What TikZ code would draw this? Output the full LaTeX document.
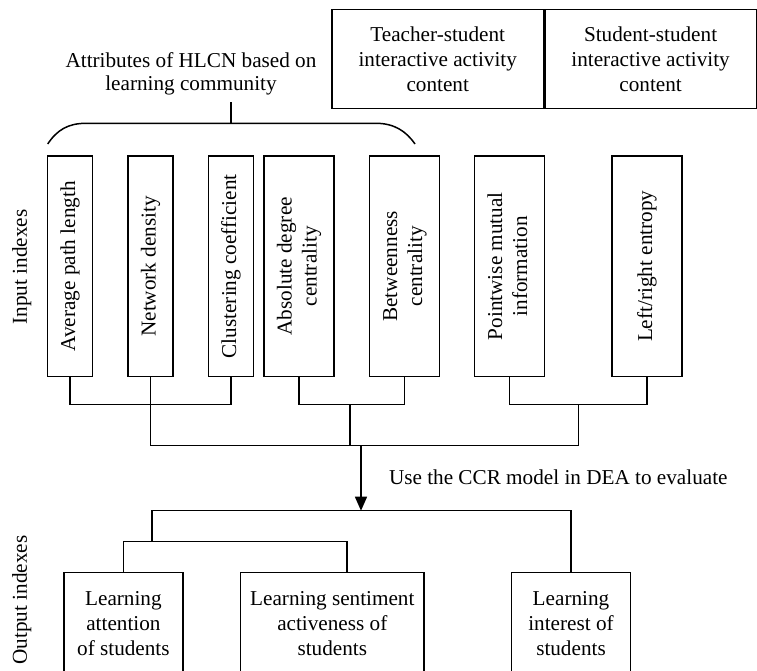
\documentclass[tikz,border=0pt]{standalone}
\usepackage{fontspec}
\setmainfont{Liberation Serif}
\usetikzlibrary{positioning}
\usetikzlibrary{arrows.meta}

\newcommand{\uptext}[1]{\rotatebox{90}{\begin{tabular}{@{}c@{}}#1\end{tabular}}}

\tikzset{
    idxbox/.style={draw, minimum height=110.4pt, inner sep=0pt},
    narrowbox/.style={idxbox, minimum width=22.5pt},
    widebox/.style={idxbox, minimum width=35pt},
    topbox/.style={draw, align=center, minimum width=105.7pt,
                   minimum height=49.5pt, inner sep=0pt},
    outbox/.style={draw, align=center, minimum height=50.7pt, inner sep=0pt},
}

\begin{document}
\begin{tikzpicture}[
        x=0.5pt, y=-0.5pt, line width=0.75pt,
        font=\fontsize{10.6}{12.5}\selectfont,
    ]
    \useasboundingbox (0,0) rectangle (757,671);

    % interaction content
    \node[topbox] (tsc) at (437.7,58.8)
        {Teacher-student\\interactive activity\\content};
    \node[topbox, right=0pt of tsc] (ssc)
        {Student-student\\interactive activity\\content};

    % attributes bracket
    \node[align=center, font=\fontsize{10.6}{11.2}\selectfont] (attr) at (191,74)
        {Attributes of HLCN based on\\learning community};
    \coordinate (stemtop) at (231,102);
    \coordinate (brace) at (231,123.3);
    \draw (stemtop) -- (brace);
    \draw (47.7,144) .. controls (57,130) and (68,123.3) .. (86,123.3)
        -- (376,123.3) .. controls (394,123.3) and (406,131) .. (415,144);

    % input indexes
    \node[rotate=90] (inlabel) at (21.7,267) {Input indexes};
    \node[narrowbox] (b1) at (70.2,266.3) {\uptext{Average path length}};
    \node[narrowbox] (b2) at (150.7,266.3) {\uptext{Network density}};
    \node[narrowbox] (b3) at (231.2,266.3) {\uptext{Clustering coefficient}};
    \node[widebox] (b4) at (299.2,266.3) {\uptext{Absolute degree\\centrality}};
    \node[widebox] (b5) at (404.5,266.3) {\uptext{Betweenness\\centrality}};
    \node[widebox] (b6) at (509.7,266.3) {\uptext{Pointwise mutual\\information}};
    \node[widebox] (b7) at (647.2,266.3) {\uptext{Left/right entropy}};

    % joining the inputs
    \coordinate (jA) at (150.7,404.3);
    \coordinate (jB) at (350,404.3);
    \coordinate (jC) at (578.5,404.3);
    \coordinate (mid) at (361,445.7);
    \draw (b1.south) |- (jA) -| (b3.south);
    \draw (b4.south) |- (jB) -| (b5.south);
    \draw (b6.south) |- (jC) -| (b7.south);
    \draw (b2.south) -- (jA) |- (mid) -| (jC);
    \draw (jB) -- (jB |- mid);

    % evaluation step
    \coordinate (otop) at (361,510.7);
    \draw[-{Triangle[width=6pt,length=7pt]}] (mid) -- (otop);
    \node[anchor=west] (ccr) at (381.6,477.7)
        {Use the CCR model in DEA to evaluate};

    % output indexes
    \node[rotate=90] (outlabel) at (21.7,600) {Output indexes};
    \node[outbox, minimum width=59.6pt] (oA) at (123.4,623.4)
        {Learning\\attention\\of students};
    \node[outbox, minimum width=91.7pt] (oB) at (332.3,623.4)
        {Learning sentiment\\activeness of\\students};
    \node[outbox, minimum width=59.4pt] (oC) at (571,623.4)
        {Learning\\interest of\\students};

    \coordinate (oL) at (152,541.3);
    \draw (oC.north) |- (otop) -| (oL);
    \draw (oA.north) |- (oL) -| ([xshift=7.3pt]oB.north);

    \end{tikzpicture}
\end{document}
